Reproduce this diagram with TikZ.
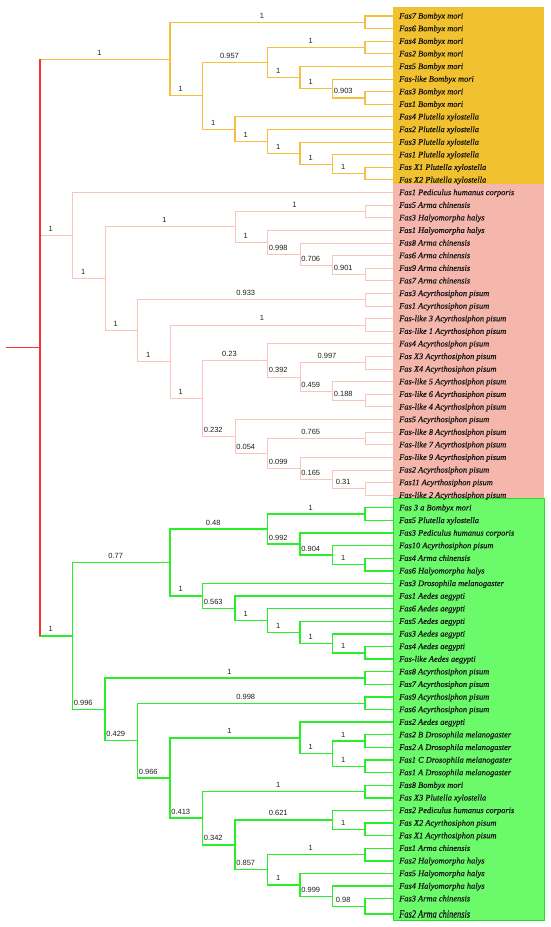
\documentclass[tikz,border=0pt]{standalone}
\usepackage{fontspec}
\setmainfont{Liberation Serif}
\newfontfamily\leaffont{Liberation Serif}[ItalicFeatures={FakeBold=0.35}]
\newfontfamily\lsans{Liberation Sans}
\usetikzlibrary{calc}
\definecolor{ogline}{RGB}{245,192,64}
\definecolor{ogbox}{RGB}{242,193,48}
\definecolor{pkline}{RGB}{248,196,188}
\definecolor{pkbox}{RGB}{245,183,172}
\definecolor{gnline}{RGB}{40,240,40}
\definecolor{gnbox}{RGB}{106,250,106}
\definecolor{gnborder}{RGB}{40,220,40}
\definecolor{rootred}{RGB}{250,50,50}
\definecolor{leafc}{RGB}{20,20,20}
\definecolor{labc}{RGB}{30,30,30}
\tikzset{
 og/.style={draw=ogline, line width=1.1pt},
 pk/.style={draw=pkline, line width=0.9pt},
 gn/.style={draw=gnline, line width=1.4pt},
 rt/.style={draw=rootred, line width=1.3pt},
 blab/.style={font=\lsans\fontsize{7.5}{8}\selectfont, text=labc, anchor=base, inner sep=0pt, xshift=-5.5pt, yshift=4pt},
 leaf/.style={font=\leaffont\fontsize{8.4}{9}\selectfont\itshape, text=leafc, anchor=base west, inner sep=0pt, xshift=6pt, yshift=-2.6pt},
}
\newcommand\inode[4]{\coordinate (#1tmp) at ($(#3)!0.5!(#4)$); \coordinate (#1) at (#1tmp -| L#2);}
\newcommand\brn[4]{\draw[#1] (#2) |- (#3); \path (#2 |- #3) -- (#3) node[blab,pos=0.5] (lab-#3) {#4};}
\newcommand\lf[3]{\draw[#1] (#2) |- (#3);}
\newcommand\pr[4]{\lf{#1}{#2}{#3}\lf{#1}{#2}{#4}}
\begin{document}
\begin{tikzpicture}[x=1pt,y=-1pt]
\useasboundingbox (0,0) rectangle (550,927);
% clade boxes
\fill[ogbox] (392.7,6.5) rectangle (544,183.5);
\fill[pkbox] (392.7,183.5) rectangle (544,498);
\filldraw[fill=gnbox, draw=gnborder, line width=0.8pt] (393,498.6) rectangle (544,920);
% levels
\foreach \k in {0,...,10} \coordinate (L\k) at ({40+32.5*\k},0);
\coordinate (stub) at (6,0);
% leaves
\foreach \i/\s in {0/{Fas7 Bombyx mori},1/{Fas6 Bombyx mori},2/{Fas4 Bombyx mori},3/{Fas2 Bombyx mori},4/{Fas5 Bombyx mori},5/{Fas-like Bombyx mori},6/{Fas3 Bombyx mori},7/{Fas1 Bombyx mori},8/{Fas4 Plutella xylostella},9/{Fas2 Plutella xylostella},10/{Fas3 Plutella xylostella},11/{Fas1 Plutella xylostella},12/{Fas X1 Plutella xylostella},13/{Fas X2 Plutella xylostella},
14/{Fas1 Pediculus humanus corporis},15/{Fas5 Arma chinensis},16/{Fas3 Halyomorpha halys},17/{Fas1 Halyomorpha halys},18/{Fas8 Arma chinensis},19/{Fas6 Arma chinensis},20/{Fas9 Arma chinensis},21/{Fas7 Arma chinensis},22/{Fas3 Acyrthosiphon pisum},23/{Fas1 Acyrthosiphon pisum},24/{Fas-like 3 Acyrthosiphon pisum},25/{Fas-like 1 Acyrthosiphon pisum},26/{Fas4 Acyrthosiphon pisum},27/{Fas X3 Acyrthosiphon pisum},28/{Fas X4 Acyrthosiphon pisum},29/{Fas-like 5 Acyrthosiphon pisum},30/{Fas-like 6 Acyrthosiphon pisum},31/{Fas-like 4 Acyrthosiphon pisum},32/{Fas5 Acyrthosiphon pisum},33/{Fas-like 8 Acyrthosiphon pisum},34/{Fas-like 7 Acyrthosiphon pisum},35/{Fas-like 9 Acyrthosiphon pisum},36/{Fas2 Acyrthosiphon pisum},37/{Fas11 Acyrthosiphon pisum},38/{Fas-like 2 Acyrthosiphon pisum},
39/{Fas 3 a Bombyx mori},40/{Fas5 Plutella xylostella},41/{Fas3 Pediculus humanus corporis},42/{Fas10 Acyrthosiphon pisum},43/{Fas4 Arma chinensis},44/{Fas6 Halyomorpha halys},45/{Fas3 Drosophila melanogaster},46/{Fas1 Aedes aegypti},47/{Fas6 Aedes aegypti},48/{Fas5 Aedes aegypti},49/{Fas3 Aedes aegypti},50/{Fas4 Aedes aegypti},51/{Fas-like Aedes aegypti},52/{Fas8 Acyrthosiphon pisum},53/{Fas7 Acyrthosiphon pisum},54/{Fas9 Acyrthosiphon pisum},55/{Fas6 Acyrthosiphon pisum},56/{Fas2 Aedes aegypti},57/{Fas2 B Drosophila melanogaster},58/{Fas2 A Drosophila melanogaster},59/{Fas1 C Drosophila melanogaster},60/{Fas1 A Drosophila melanogaster},61/{Fas8 Bombyx mori},62/{Fas X3 Plutella xylostella},63/{Fas2 Pediculus humanus corporis},64/{Fas X2 Acyrthosiphon pisum},65/{Fas X1 Acyrthosiphon pisum},66/{Fas1 Arma chinensis},67/{Fas2 Halyomorpha halys},68/{Fas5 Halyomorpha halys},69/{Fas4 Halyomorpha halys},70/{Fas3 Arma chinensis}}{
  \coordinate (t\i) at (393,{16+12.61*\i});
  \node[leaf] (n\i) at (t\i) {\s};
}
\coordinate (t71) at (393,914);
\node[leaf, yshift=-1pt] (n71) at (t71) {\scalebox{1}[1.3]{Fas2 Arma chinensis}};
% ---- orange clade nodes
\inode{P01}{10}{t0}{t1}
\inode{P23}{10}{t2}{t3}
\inode{P67}{10}{t6}{t7}
\inode{F}{9}{t5}{P67}
\inode{E}{8}{t4}{F}
\inode{C}{7}{P23}{E}
\inode{P1213}{10}{t12}{t13}
\inode{I}{9}{t11}{P1213}
\inode{H}{8}{t10}{I}
\inode{G}{7}{t9}{H}
\inode{D}{6}{t8}{G}
\inode{B}{5}{C}{D}
\inode{A}{4}{P01}{B}
% ---- pink clade nodes
\inode{P1516}{10}{t15}{t16}
\inode{P2021}{10}{t20}{t21}
\inode{GG}{9}{t19}{P2021}
\inode{FF}{8}{t18}{GG}
\inode{EE}{7}{t17}{FF}
\inode{R}{6}{P1516}{EE}
\inode{T}{10}{t22}{t23}
\inode{V}{10}{t24}{t25}
\inode{P2728}{10}{t27}{t28}
\inode{P3031}{10}{t30}{t31}
\inode{Z}{9}{t29}{P3031}
\inode{Y}{8}{P2728}{Z}
\inode{X}{7}{t26}{Y}
\inode{P3334}{10}{t33}{t34}
\inode{P3738}{10}{t37}{t38}
\inode{DD}{9}{t36}{P3738}
\inode{CC}{8}{t35}{DD}
\inode{BB}{7}{P3334}{CC}
\inode{AA}{6}{t32}{BB}
\inode{W}{5}{X}{AA}
\inode{U}{4}{V}{W}
\inode{S}{3}{T}{U}
\inode{Q}{2}{R}{S}
\inode{PR}{1}{t14}{Q}
% ---- green clade nodes
\inode{P3940}{10}{t39}{t40}
\inode{P4344}{10}{t43}{t44}
\inode{LL}{9}{t42}{P4344}
\inode{KK}{8}{t41}{LL}
\inode{JJ}{7}{P3940}{KK}
\inode{P5051}{10}{t50}{t51}
\inode{QQ}{9}{t49}{P5051}
\inode{PP}{8}{t48}{QQ}
\inode{OO}{7}{t47}{PP}
\inode{NN}{6}{t46}{OO}
\inode{MM}{5}{t45}{NN}
\inode{HH}{4}{JJ}{MM}
\inode{RR}{10}{t52}{t53}
\inode{TT}{10}{t54}{t55}
\inode{P5758}{10}{t57}{t58}
\inode{P5960}{10}{t59}{t60}
\inode{WW}{9}{P5758}{P5960}
\inode{VV}{8}{t56}{WW}
\inode{YY}{10}{t61}{t62}
\inode{P6465}{10}{t64}{t65}
\inode{AI}{9}{t63}{P6465}
\inode{CI}{10}{t66}{t67}
\inode{P7071}{10}{t70}{t71}
\inode{EI}{9}{t69}{P7071}
\inode{DI}{8}{t68}{EI}
\inode{BI}{7}{CI}{DI}
\inode{ZZ}{6}{AI}{BI}
\inode{XX}{5}{YY}{ZZ}
\inode{UU}{4}{VV}{XX}
\inode{SS}{3}{TT}{UU}
\inode{II}{2}{RR}{SS}
\inode{GR}{1}{HH}{II}
% ---- root
\inode{root}{0}{A}{GR}
% ---- orange edges
\brn{og}{root}{A}{1}
\brn{og}{A}{P01}{1}
\brn{og}{A}{B}{1}
\pr{og}{P01}{t0}{t1}
\brn{og}{B}{C}{0.957}
\brn{og}{B}{D}{1}
\brn{og}{C}{P23}{1}
\brn{og}{C}{E}{1}
\pr{og}{P23}{t2}{t3}
\lf{og}{E}{t4}
\brn{og}{E}{F}{1}
\lf{og}{F}{t5}
\brn{og}{F}{P67}{0.903}
\pr{og}{P67}{t6}{t7}
\lf{og}{D}{t8}
\brn{og}{D}{G}{1}
\lf{og}{G}{t9}
\brn{og}{G}{H}{1}
\lf{og}{H}{t10}
\brn{og}{H}{I}{1}
\lf{og}{I}{t11}
\brn{og}{I}{P1213}{1}
\pr{og}{P1213}{t12}{t13}
% ---- pink edges
\brn{pk}{root}{PR}{1}
\lf{pk}{PR}{t14}
\brn{pk}{PR}{Q}{1}
\brn{pk}{Q}{R}{1}
\brn{pk}{Q}{S}{1}
\brn{pk}{R}{P1516}{1}
\pr{pk}{P1516}{t15}{t16}
\brn{pk}{R}{EE}{1}
\lf{pk}{EE}{t17}
\brn{pk}{EE}{FF}{0.998}
\lf{pk}{FF}{t18}
\brn{pk}{FF}{GG}{0.706}
\lf{pk}{GG}{t19}
\brn{pk}{GG}{P2021}{0.901}
\pr{pk}{P2021}{t20}{t21}
\brn{pk}{S}{T}{0.933}
\pr{pk}{T}{t22}{t23}
\brn{pk}{S}{U}{1}
\brn{pk}{U}{V}{1}
\pr{pk}{V}{t24}{t25}
\brn{pk}{U}{W}{1}
\brn{pk}{W}{X}{0.23}
\lf{pk}{X}{t26}
\brn{pk}{X}{Y}{0.392}
\brn{pk}{Y}{P2728}{0.997}
\pr{pk}{P2728}{t27}{t28}
\brn{pk}{Y}{Z}{0.459}
\lf{pk}{Z}{t29}
\brn{pk}{Z}{P3031}{0.188}
\pr{pk}{P3031}{t30}{t31}
\brn{pk}{W}{AA}{0.232}
\lf{pk}{AA}{t32}
\brn{pk}{AA}{BB}{0.054}
\brn{pk}{BB}{P3334}{0.765}
\pr{pk}{P3334}{t33}{t34}
\brn{pk}{BB}{CC}{0.099}
\lf{pk}{CC}{t35}
\brn{pk}{CC}{DD}{0.165}
\lf{pk}{DD}{t36}
\brn{pk}{DD}{P3738}{0.31}
\pr{pk}{P3738}{t37}{t38}
% ---- green edges
\brn{gn}{root}{GR}{1}
\brn{gn}{GR}{HH}{0.77}
\brn{gn}{GR}{II}{0.996}
\brn{gn}{HH}{JJ}{0.48}
\brn{gn}{HH}{MM}{1}
\brn{gn}{JJ}{P3940}{1}
\pr{gn}{P3940}{t39}{t40}
\brn{gn}{JJ}{KK}{0.992}
\lf{gn}{KK}{t41}
\brn{gn}{KK}{LL}{0.904}
\lf{gn}{LL}{t42}
\brn{gn}{LL}{P4344}{1}
\pr{gn}{P4344}{t43}{t44}
\lf{gn}{MM}{t45}
\brn{gn}{MM}{NN}{0.563}
\lf{gn}{NN}{t46}
\brn{gn}{NN}{OO}{1}
\lf{gn}{OO}{t47}
\brn{gn}{OO}{PP}{1}
\lf{gn}{PP}{t48}
\brn{gn}{PP}{QQ}{1}
\lf{gn}{QQ}{t49}
\brn{gn}{QQ}{P5051}{1}
\pr{gn}{P5051}{t50}{t51}
\brn{gn}{II}{RR}{1}
\pr{gn}{RR}{t52}{t53}
\brn{gn}{II}{SS}{0.429}
\brn{gn}{SS}{TT}{0.998}
\pr{gn}{TT}{t54}{t55}
\brn{gn}{SS}{UU}{0.966}
\brn{gn}{UU}{VV}{1}
\lf{gn}{VV}{t56}
\brn{gn}{VV}{WW}{1}
\brn{gn}{WW}{P5758}{1}
\pr{gn}{P5758}{t57}{t58}
\brn{gn}{WW}{P5960}{1}
\pr{gn}{P5960}{t59}{t60}
\brn{gn}{UU}{XX}{0.413}
\brn{gn}{XX}{YY}{1}
\pr{gn}{YY}{t61}{t62}
\brn{gn}{XX}{ZZ}{0.342}
\brn{gn}{ZZ}{AI}{0.621}
\lf{gn}{AI}{t63}
\brn{gn}{AI}{P6465}{1}
\pr{gn}{P6465}{t64}{t65}
\brn{gn}{ZZ}{BI}{0.857}
\brn{gn}{BI}{CI}{1}
\pr{gn}{CI}{t66}{t67}
\brn{gn}{BI}{DI}{1}
\lf{gn}{DI}{t68}
\brn{gn}{DI}{EI}{0.999}
\lf{gn}{EI}{t69}
\brn{gn}{EI}{P7071}{0.98}
\pr{gn}{P7071}{t70}{t71}
% ---- root (red)
\draw[rt] (root -| stub) -- (root);
\draw[rt] (root |- A) -- (root |- GR);
\end{tikzpicture}
\end{document}
